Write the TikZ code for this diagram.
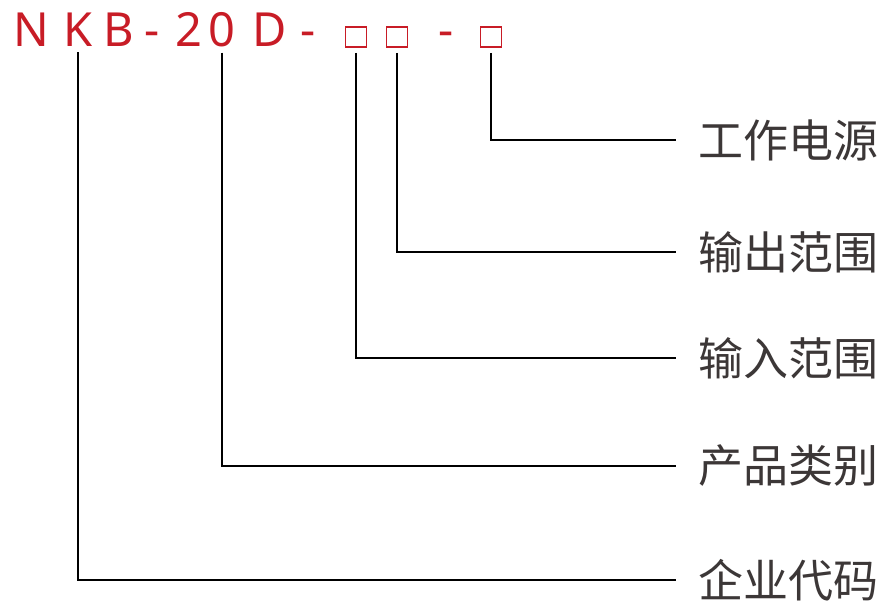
\documentclass[tikz,border=0pt]{standalone}
\usepackage{fontspec}
\setmainfont{Noto Sans}
\newfontfamily\cjk{Noto Sans CJK SC}
\usetikzlibrary{positioning}
\definecolor{codered}{RGB}{200,28,38}
\definecolor{labelgray}{RGB}{60,55,55}
\tikzset{
  lead/.style={black,line width=1.1pt,shorten <=5pt,shorten >=22pt},
  codechar/.style={anchor=base,inner sep=0pt,text=codered,font=\fontsize{47}{47}\selectfont},
  slot/.style={draw=codered,line width=1.6pt,minimum width=21pt,minimum height=20pt,
               inner sep=0pt,anchor=south},
  field/.style={anchor=west,inner sep=0pt,text=labelgray,font=\cjk\fontsize{45}{45}\selectfont},
}
\begin{document}
\begin{tikzpicture}[x=1pt,y=-1pt]
  \path[use as bounding box] (0,0) rectangle (891,610);

  % model code
  \node[codechar] (n)  at (31,47)  {N};
  \node[codechar] (k)  at (78,47)  {K};
  \node[codechar] (b)  at (119,47) {B};
  \node[codechar] (d1) at (152,47) {-};
  \node[codechar] (c2) at (189,47) {2};
  \node[codechar] (c0) at (222,47) {0};
  \node[codechar] (dd) at (270,47) {D};
  \node[codechar] (d2) at (308,47) {-};
  \node[slot]     (s1) at (356,48) {};
  \node[slot]     (s2) at (397,48) {};
  \node[codechar] (d3) at (446,47) {-};
  \node[slot]     (s3) at (491,48) {};

  % field names
  \node[field] (power)    at (698,140) {工作电源};
  \node[field] (output)   at (698,252) {输出范围};
  \node[field] (input)    at (698,358) {输入范围};
  \node[field] (category) at (698,466) {产品类别};
  \node[field] (company)  at (698,580) {企业代码};

  \draw[lead] (s3.south) |- (power.west);
  \draw[lead] (s2.south) |- (output.west);
  \draw[lead] (s1.south) |- (input.west);
  \draw[lead] (c0.south) |- (category.west);
  \draw[lead] (k.south)  |- (company.west);
\end{tikzpicture}
\end{document}
